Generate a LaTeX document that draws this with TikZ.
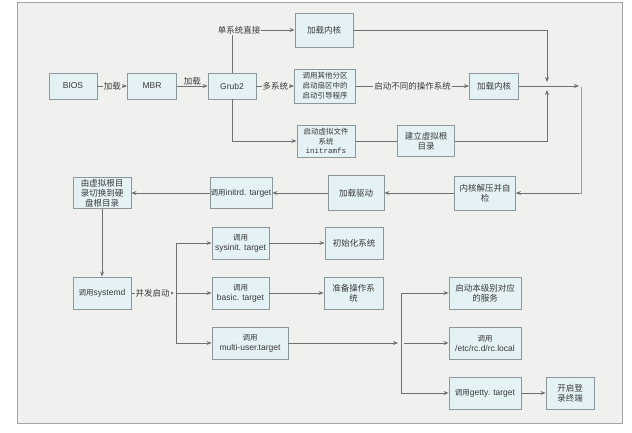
\documentclass[tikz,border=0pt]{standalone}
\usepackage{fontspec}
\setmainfont{Liberation Sans}
\newfontfamily\zh{Noto Sans CJK SC}
\newfontfamily\mono{Liberation Mono}
\usetikzlibrary{arrows.meta}
\definecolor{framefill}{HTML}{F0F0EE}
\definecolor{frameline}{HTML}{A4A4A4}
\definecolor{boxfill}{HTML}{E4F1F5}
\definecolor{boxline}{HTML}{8C979C}
\definecolor{wire}{HTML}{707070}
\definecolor{ink}{HTML}{3A3A3A}
\tikzset{
  box/.style={draw=boxline, line width=0.9pt, fill=boxfill, inner sep=0pt, align=center,
    text=ink, font=\fontsize{8.5}{10}\zh},
  lbl/.style={fill=framefill, inner sep=1pt, text=ink, font=\fontsize{8.5}{10}\zh},
  wireline/.style={draw=wire, line width=0.8pt},
  arr/.style={wireline, -{Stealth[length=5pt,width=4pt]}},
}
\newcommand{\lat}[1]{{\fontsize{8.5}{10}\selectfont\rmfamily #1}}
\begin{document}
\begin{tikzpicture}[x=1pt,y=-1pt]
\useasboundingbox (0,0) rectangle (632,433);
\fill[white] (0,0) rectangle (632,433);
\draw[frameline, fill=framefill, line width=1pt] (17,3) rectangle (622,423);

% row 1
\node[box, minimum width=48, minimum height=26] (bios) at (73,86) {\lat{BIOS}};
\node[box, minimum width=49, minimum height=26] (mbr) at (152,86) {\lat{MBR}};
\node[box, minimum width=48, minimum height=26] (grub) at (232,86) {\lat{Grub2}};
\node[box, minimum width=58, minimum height=34] (k1) at (324,30) {加载内核};
\node[box, minimum width=61, minimum height=34, font=\fontsize{7.5}{10}\zh] (other) at (325,86) {调用其他分区\\启动扇区中的\\启动引导程序};
\node[box, minimum width=58, minimum height=32, font=\fontsize{7.5}{9.5}\zh] (initramfs) at (326,141) {启动虚拟文件\\系统\\{\mono\fontsize{7.5}{9.5}\selectfont initramfs}};
\node[box, minimum width=49, minimum height=26] (k2) at (494,86) {加载内核};
\node[box, minimum width=57, minimum height=31] (vroot) at (426,141) {建立虚拟根\\目录};

% row 2
\node[box, minimum width=61, minimum height=34] (decomp) at (485,193) {内核解压并自\\检};
\node[box, minimum width=56, minimum height=35] (driver) at (356,193) {加载驱动};
\node[box, minimum width=62, minimum height=31] (initrd) at (241,193) {{\fontsize{7.5}{10}\selectfont 调用}\lat{initrd. target}};
\node[box, minimum width=58, minimum height=31, font=\fontsize{8.5}{9.8}\zh] (switch) at (102,193) {由虚拟根目\\录切换到硬\\盘根目录};

% systemd part
\node[box, minimum width=58, minimum height=32] (systemd) at (102,293) {{\fontsize{7.5}{10}\selectfont 调用}\lat{systemd}};
\node[box, minimum width=57, minimum height=32] (sysinit) at (240.5,243) {{\fontsize{7.5}{10}\selectfont 调用}\\\lat{sysinit. target}};
\node[box, minimum width=57, minimum height=32] (basic) at (240.5,293) {{\fontsize{7.5}{10}\selectfont 调用}\\\lat{basic. target}};
\node[box, minimum width=76, minimum height=32] (multi) at (250,343) {{\fontsize{7.5}{10}\selectfont 调用}\\\lat{multi-user.target}};
\node[box, minimum width=58, minimum height=32] (init) at (354,243) {初始化系统};
\node[box, minimum width=59, minimum height=32] (prep) at (353.5,293) {准备操作系\\统};
\node[box, minimum width=72, minimum height=32] (svc) at (485,293) {启动本级别对应\\的服务};
\node[box, minimum width=72, minimum height=32] (rclocal) at (485,343) {{\fontsize{7.5}{10}\selectfont 调用}\\\lat{/etc/rc.d/rc.local}};
\node[box, minimum width=72, minimum height=32] (getty) at (485,393) {{\fontsize{7.5}{10}\selectfont 调用}\lat{getty. target}};
\node[box, minimum width=48, minimum height=32] (login) at (570,393) {开启登\\录终端};

% junction coordinates
\coordinate (ja) at (547,82);
\coordinate (jb) at (547,90);
\coordinate (jc) at (579,86);
\coordinate (jd) at (581,87);
\coordinate (p1) at (176,293);
\coordinate (p1a) at (176,243);
\coordinate (p1b) at (176,343);
\coordinate (q) at (401,343);
\coordinate (qa) at (401,293);
\coordinate (qb) at (401,393);

% top row connectors
\draw[arr] (bios) -- node[lbl]{加载} (mbr);
\draw[arr] (mbr) -- node[lbl, fill=none, above=-1pt]{加载} (grub);
\node[lbl] (single) at (239,30) {单系统直接};
\draw[wireline] (grub.north) -- (grub.north |- single.south);
\draw[arr] (single.east) -- (k1.west);
\draw[arr] (grub) -- node[lbl]{多系统} (other);
\draw[arr] (grub.south) |- (initramfs.west);
\draw[arr] (other) -- node[lbl]{启动不同的操作系统} (k2);
\draw[wireline] (initramfs) -- (vroot);
\draw[arr] (k1.east) -| (ja);
\draw[arr] (vroot.east) -| (jb);
\draw[arr] (k2.east) -- (jc);
\draw[wireline, draw=wire!70] (jd) |- (decomp.east);
\draw[arr] (jd |- decomp.east) ++(-2,0) -- (decomp.east);

% second row
\draw[arr] (decomp) -- (driver);
\draw[arr] (driver) -- (initrd);
\draw[arr] (initrd) -- (switch);
\draw[arr] (switch) -- (systemd);

% systemd branch
\draw[arr] (systemd) -- node[lbl, pos=0.5]{并发启动} ([xshift=-2]p1);
\draw[wireline] (p1a) -- (p1b);
\draw[arr] (p1a) -- (sysinit.west);
\draw[arr] (p1) -- (basic.west);
\draw[arr] (p1b) -- (multi.west);
\draw[arr] (sysinit) -- (init);
\draw[arr] (basic) -- (prep);
\draw[arr] (multi.east) -- ([xshift=-3]q);
\draw[wireline] (qa) -- (qb);
\draw[arr] (qa) -- (svc.west);
\draw[arr] ([xshift=3]q) -- (rclocal.west);
\draw[arr] (qb) -- (getty.west);
\draw[arr] (getty) -- (login);
\end{tikzpicture}
\end{document}
